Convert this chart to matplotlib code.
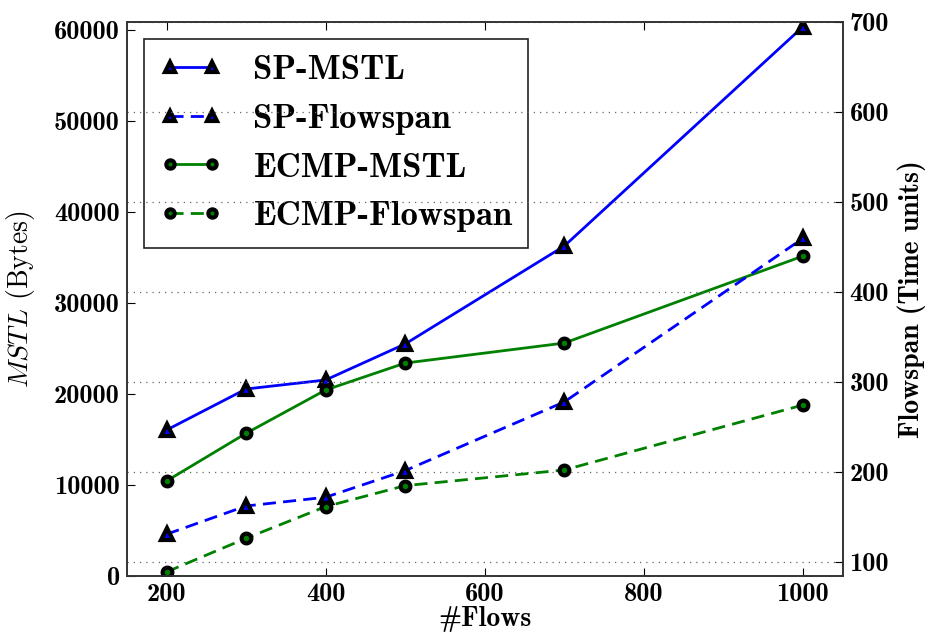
import matplotlib
matplotlib.use("Agg")
import matplotlib.pyplot as plt

plt.rcParams['font.family'] = 'cmb10'
plt.rcParams['mathtext.fontset'] = 'cm'
plt.rcParams['axes.unicode_minus'] = False

flows = [200, 300, 400, 500, 700, 1000]
sp_mstl = [16040, 20550, 21540, 25500, 36260, 60360]
ecmp_mstl = [10440, 15680, 20440, 23400, 25600, 35160]
sp_flowspan = [130.8, 162.2, 171.9, 201.5, 277.8, 459.6]
ecmp_flowspan = [88.9, 126.3, 161.5, 184.8, 202.2, 274.4]

mstl_ticks = [0, 10000, 20000, 30000, 40000, 50000, 60000]
span_ticks = [100, 200, 300, 400, 500, 600, 700]
flow_ticks = [200, 400, 600, 800, 1000]

fig = plt.figure(figsize=(9.25, 6.42), dpi=100)
ax = fig.add_axes([0.137, 0.1028, 0.774, 0.8629])
ax2 = ax.twinx()

tri = dict(marker='^', markersize=8, markeredgecolor='k', markeredgewidth=3)
dot = dict(marker='o', markersize=7, markeredgecolor='k', markeredgewidth=3)
dash = (4.7, 2.6)

l1, = ax.plot(flows, sp_mstl, '-', color='#0000ff', lw=2, label='SP-MSTL', **tri)
l2, = ax2.plot(flows, sp_flowspan, '--', dashes=dash, color='#0000ff', lw=2,
               label='SP-Flowspan', **tri)
l3, = ax.plot(flows, ecmp_mstl, '-', color='#008000', lw=2, label='ECMP-MSTL', **dot)
l4, = ax2.plot(flows, ecmp_flowspan, '--', dashes=dash, color='#008000', lw=2,
               label='ECMP-Flowspan', **dot)

ax.set_xlim(150, 1050)
ax.set_ylim(0, 60880)
ax2.set_ylim(84.4, 700)
ax.set_xticks(flow_ticks)
ax.set_yticks(mstl_ticks)
ax2.set_yticks(span_ticks)

ax2.grid(axis='y', linestyle=(0, (1, 4)), color='#666666', lw=0.9)

ax.tick_params(direction='in', labelsize=19, length=6, top=True, pad=5)
ax2.tick_params(direction='in', labelsize=19, length=6, pad=5)
for a in (ax, ax2):
    for s in a.spines.values():
        s.set_linewidth(1.2)
        s.set_color('#333333')

ax.set_xlabel('#Flows', fontsize=20, labelpad=0)
ax.set_ylabel(r'$MSTL$ (Bytes)', fontsize=20, family='cmr10', labelpad=12)
ax2.set_ylabel('Flowspan (Time units)', fontsize=20, labelpad=6)

leg = ax.legend(handles=[l1, l2, l3, l4], loc='upper left', numpoints=2,
                fontsize=25, fancybox=False, framealpha=1, handlelength=1.8,
                handletextpad=0.9, labelspacing=0.5, borderpad=0.45,
                bbox_to_anchor=(0, 1), borderaxespad=0.5, markerscale=0.85)
leg.get_frame().set_edgecolor('#222222')
leg.get_frame().set_linewidth(1.2)

fig.savefig('out.png', dpi=100)
